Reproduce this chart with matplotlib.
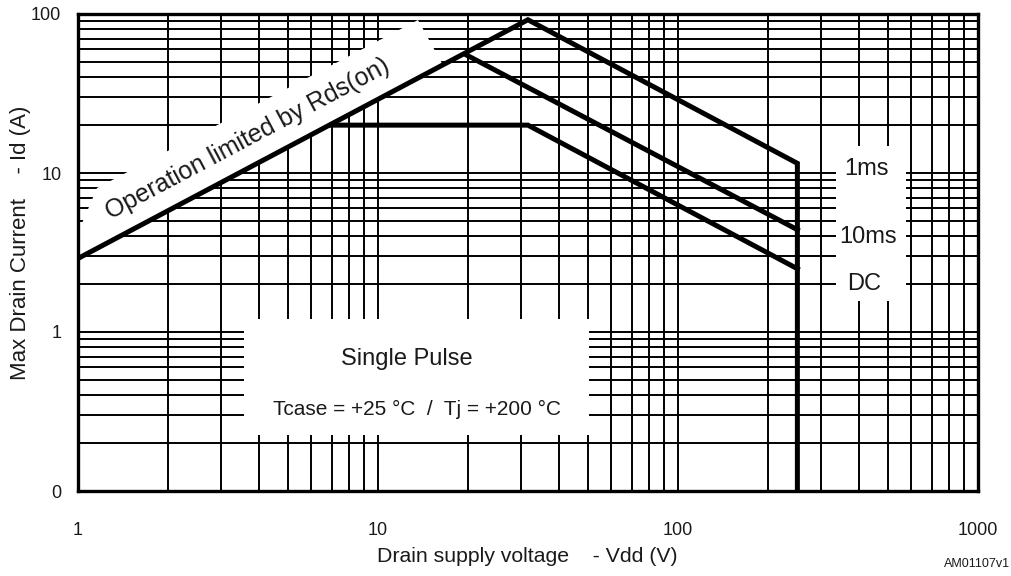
import numpy as np
import matplotlib
matplotlib.use("Agg")
import matplotlib.pyplot as plt
from matplotlib.patches import Rectangle, Polygon
from matplotlib.ticker import FixedLocator, NullFormatter

plt.rcParams['font.family'] = ['Liberation Sans', 'DejaVu Sans']

# safe operating area curves (Vdd in V, Id in A)
ms1_v = [1, 31.6, 250, 250]
ms1_i = [2.9, 92, 11.5, 0.1]
ms10_v = [19.8, 250]
ms10_i = [55, 4.4]
dc_v = [7.0, 31.6, 250]
dc_i = [20, 20, 2.5]

x_ticks = [1, 10, 100, 1000]
x_labels = ["1", "10", "100", "1000"]
y_ticks = [0.1, 1, 10, 100]
y_labels = ["0", "1", "10", "100"]

W, H = 1011, 576
L, R, T, B = 78, 978, 14, 491

fig = plt.figure(figsize=(W / 100, H / 100), dpi=100)
ax = fig.add_axes([L / W, 1 - B / H, (R - L) / W, (B - T) / H])
ax.set_xscale('log')
ax.set_yscale('log')
ax.set_xlim(1, 1000)
ax.set_ylim(0.1, 100)

ax.xaxis.set_major_locator(FixedLocator(x_ticks))
ax.set_xticklabels(x_labels)
ax.yaxis.set_major_locator(FixedLocator(y_ticks))
ax.set_yticklabels(y_labels)
minor = [m * 10.0 ** d for d in range(-1, 3) for m in range(2, 10)]
ax.xaxis.set_minor_locator(FixedLocator([v for v in minor if 1 < v < 1000]))
ax.yaxis.set_minor_locator(FixedLocator([v for v in minor if 0.1 < v < 100]))
ax.xaxis.set_minor_formatter(NullFormatter())
ax.yaxis.set_minor_formatter(NullFormatter())
ax.tick_params(which='both', length=0, labelsize=13, colors='#1a1a1a')
ax.tick_params(axis='x', pad=22)
ax.tick_params(axis='y', pad=12)

ax.set_axisbelow(True)
ax.grid(which='both', color='black', linewidth=1.4)
for s in ax.spines.values():
    s.set_linewidth(2.4)


def px(x, y):
    # pixel position -> axes fraction
    return ((x - L) / (R - L), (B - y) / (B - T))


# white areas behind the labels
ax.add_patch(Rectangle((3.58, 0.225), 50.5 - 3.58, 1.21 - 0.225,
                       facecolor='white', edgecolor='none', zorder=1))
ax.add_patch(Rectangle((336, 1.56), 575 - 336, 14.8 - 1.56,
                       facecolor='white', edgecolor='none', zorder=1))
band = [px(78, 259), px(80, 228), px(97, 188), px(418, 20), px(444, 67)]
ax.add_patch(Polygon(band, closed=True, transform=ax.transAxes,
                     facecolor='white', edgecolor='none', zorder=1))

lw = 3.6
ax.plot(ms1_v, ms1_i, color='black', lw=lw, solid_joinstyle='miter', zorder=3)
ax.plot(ms10_v, ms10_i, color='black', lw=lw, solid_joinstyle='miter', zorder=3)
ax.plot(dc_v, dc_i, color='black', lw=lw, solid_joinstyle='miter', zorder=3)

# angle of the Rds(on) line on screen
fig.canvas.draw()
p0 = ax.transData.transform((ms1_v[0], ms1_i[0]))
p1 = ax.transData.transform((ms1_v[1], ms1_i[1]))
ang = np.degrees(np.arctan2(p1[1] - p0[1], p1[0] - p0[0]))
ax.text(3.69, 16.4, "Operation limited by Rds(on)", rotation=ang,
        rotation_mode='anchor', ha='center', va='center', fontsize=18,
        color='#1a1a1a', zorder=2)

ax.text(12.5, 0.62, "Single Pulse", ha='center', va='baseline', fontsize=17, color='#1a1a1a', zorder=2)
ax.text(13.5, 0.30, "Tcase = +25 °C  /  Tj = +200 °C", ha='center', va='baseline',
        fontsize=15, color='#1a1a1a', zorder=2)

ax.text(424, 9.7, "1ms", ha='center', va='baseline', fontsize=17, color='#1a1a1a', zorder=2)
ax.text(430, 3.63, "10ms", ha='center', va='baseline', fontsize=17, color='#1a1a1a', zorder=2)
ax.text(418, 1.83, "DC", ha='center', va='baseline', fontsize=17, color='#1a1a1a', zorder=2)

fig.text(527 / W, 1 - 556 / H, "Drain supply voltage    - Vdd (V)", ha='center', va='center',
         fontsize=15.3, color='#1a1a1a')
fig.text(21 / W, 1 - 243 / H, "Max Drain Current    - Id (A)", ha='center', va='center',
         rotation=90, fontsize=16, color='#1a1a1a')
fig.text(977 / W, 1 - 564 / H, "AM01107v1", ha='center', va='center', fontsize=9, color='#1a1a1a')

fig.savefig("out.png", dpi=100)
